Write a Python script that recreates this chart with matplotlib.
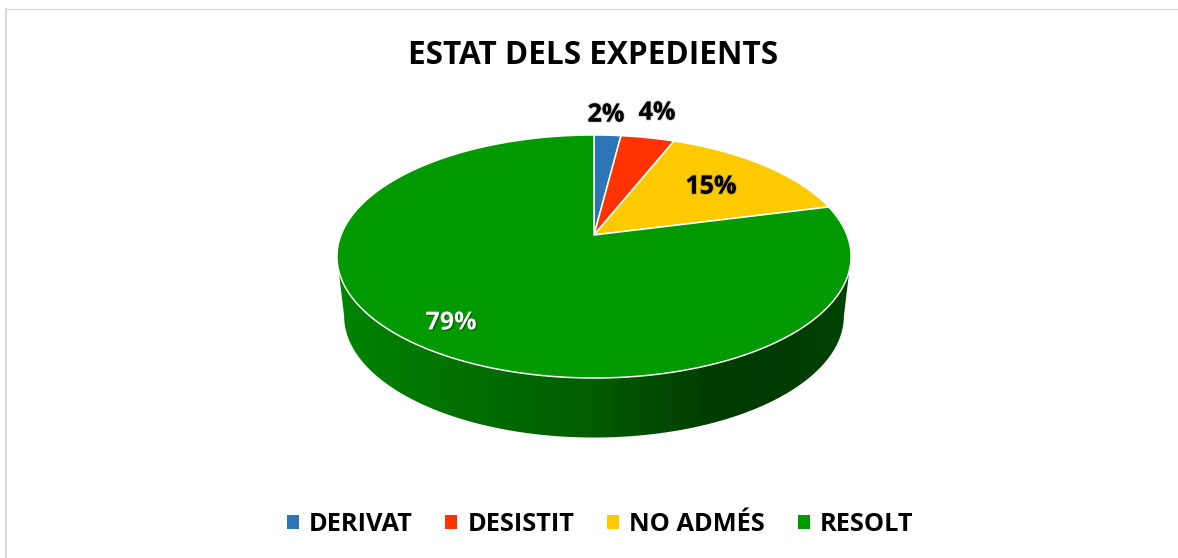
import numpy as np
import matplotlib

matplotlib.use("Agg")
import matplotlib.pyplot as plt  # noqa: E402
import matplotlib.patheffects as pe  # noqa: E402
from matplotlib.colors import LinearSegmentedColormap  # noqa: E402
from matplotlib.patches import Patch, Polygon  # noqa: E402

labels = ["DERIVAT", "DESISTIT", "NO ADMÉS", "RESOLT"]
values = [2, 4, 15, 79]
colors = ["#2e75b6", "#ff3300", "#fdca00", "#009900"]
text_colors = ["black", "black", "black", "white"]

W, H = 1178, 558
plt.rcParams["font.family"] = ["Open Sans", "DejaVu Sans"]

# pie geometry in pixels, k gives the perspective of the tilted disc
CX, CY = 594, 235
RX, RY = 253, 117.7
K = 0.177


def project(angle):
    # angle clockwise from 12 o'clock, on the unit disc
    x = np.sin(angle)
    y = np.cos(angle)
    d = 1 + K * y
    return CX + RX * x / d, CY - RY * y / d


def shadow(color):
    if color == "white":
        return [pe.withSimplePatchShadow(offset=(0.8, -0.8), shadow_rgbFace="#003300", alpha=0.6)]
    return [pe.withStroke(linewidth=1.5, foreground="#00000030")]


fig = plt.figure(figsize=(W / 100, H / 100), dpi=100)
ax = fig.add_axes([0, 0, 1, 1])
ax.set_xlim(0, W)
ax.set_ylim(H, 0)
ax.axis("off")

# chart frame, only the left and top edges are in the crop
ax.plot([6, 6], [8, H], color="#d9d9d9", linewidth=1.5, solid_capstyle="butt")
ax.plot([5, W], [8.5, 8.5], color="#d9d9d9", linewidth=0.9, solid_capstyle="butt")

# side wall: top rim joined to a slightly narrower rim lower down
widest = np.arccos(-K)
t = np.linspace(widest, 2 * np.pi - widest, 400)
rim_x, rim_y = project(t)
low_x = CX + (rim_x - CX) * 0.972
low_y = rim_y + 59.5
wall = Polygon(
    np.column_stack([np.r_[rim_x, low_x[::-1]], np.r_[rim_y, low_y[::-1]]]),
    closed=True,
    facecolor="none",
    edgecolor="none",
)
ax.add_patch(wall)
wall_cmap = LinearSegmentedColormap.from_list(
    "wall",
    [(0, "#008400"), (0.25, "#006f00"), (0.5, "#005c00"), (0.72, "#003d00"), (0.85, "#003a00"), (1, "#004400")],
)
grad = ax.imshow(
    np.linspace(0, 1, 512).reshape(1, -1),
    extent=(rim_x.min(), rim_x.max(), low_y.max(), rim_y.min()),
    cmap=wall_cmap,
    aspect="auto",
    zorder=1,
)
grad.set_clip_path(wall)
ax.set_xlim(0, W)
ax.set_ylim(H, 0)

# top face, one wedge per value
fractions = np.array(values) / np.sum(values)
edges = np.r_[0, np.cumsum(fractions)] * 2 * np.pi
for i, color in enumerate(colors):
    a = np.linspace(edges[i], edges[i + 1], 200)
    x, y = project(a)
    ax.fill(np.r_[CX, x], np.r_[CY, y], facecolor=color, edgecolor="white", linewidth=1.1, zorder=2)

# data labels, placed by hand like the reference
label_pos = [(606, 115), (657, 113), (711, 187), (451, 323)]
for value, pos, color in zip(values, label_pos, text_colors):
    ax.text(pos[0], pos[1], f"{value}%", ha="center", va="center", fontsize=18, fontweight="bold",
            color=color, path_effects=shadow(color), zorder=3)

ax.text(593, 55, "ESTAT DELS EXPEDIENTS", ha="center", va="center", fontsize=22.7, fontweight="bold", color="black")

handles = [Patch(facecolor=c, edgecolor="none") for c in colors]
leg = ax.legend(
    handles, labels, loc="center", bbox_to_anchor=(600 / W, 1 - 524.5 / H), ncol=4, frameon=False,
    prop={"size": 18.3, "weight": "bold"}, handlelength=0.47, handleheight=0.47, handletextpad=0.39, columnspacing=1.3,
)

fig.savefig("out.png", dpi=100)
